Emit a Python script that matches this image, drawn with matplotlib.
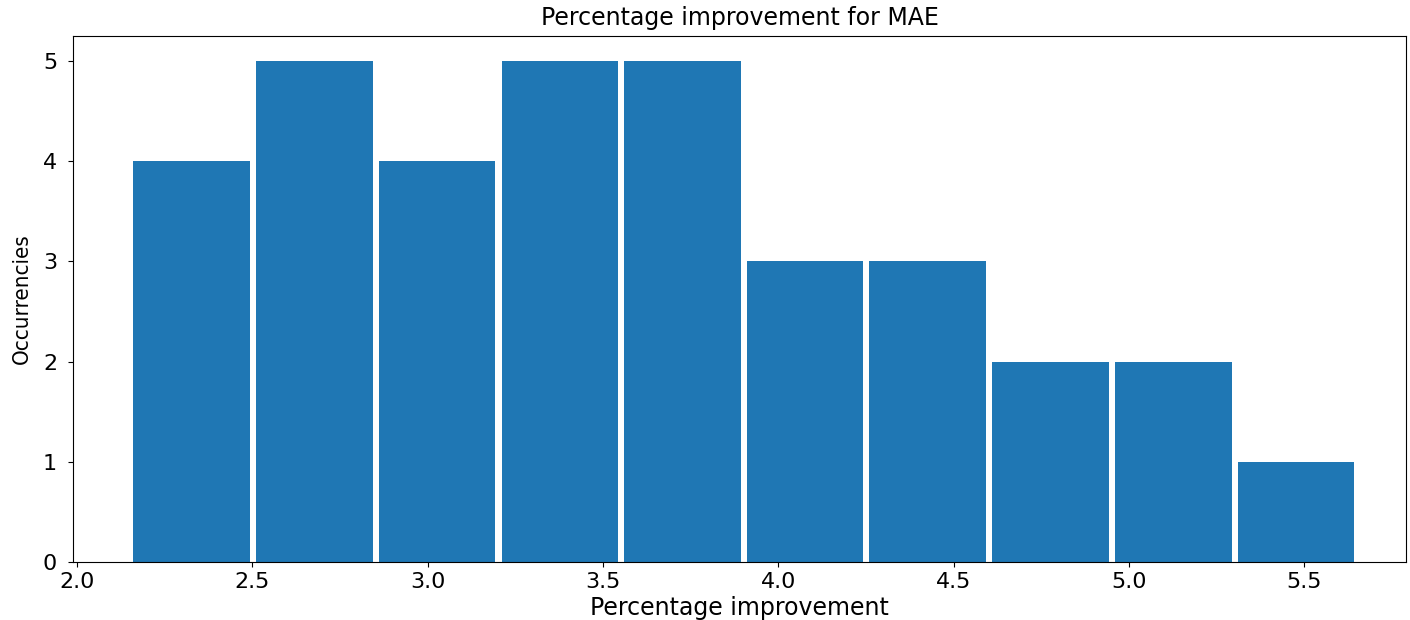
import matplotlib
matplotlib.use('Agg')
import matplotlib.pyplot as plt
import matplotlib.font_manager as fm
import numpy as np

# --- Data ---
bin_edges = [2.152, 2.502, 2.852, 3.202, 3.552, 3.901,
             4.251, 4.601, 4.951, 5.301, 5.651]
counts = [4, 5, 4, 5, 5, 3, 3, 2, 2, 1]

centers = [(a + b) / 2 for a, b in zip(bin_edges[:-1], bin_edges[1:])]

fig = plt.figure(figsize=(14.1, 6.2), dpi=100)
ax = fig.add_axes([0.0518, 0.0935, 0.9455, 0.8485])

ax.hist(centers, bins=bin_edges, weights=counts, rwidth=0.95, color='#1f77b4')

ax.set_xlim(1.989, 5.79)
ax.set_ylim(0, 5.25)
ax.set_xticks([2.0, 2.5, 3.0, 3.5, 4.0, 4.5, 5.0, 5.5])
ax.set_yticks([0, 1, 2, 3, 4, 5])
ax.tick_params(labelsize=16)
ax.tick_params(axis='y', pad=8)

ax.set_title('Percentage improvement for MAE', fontsize=17, pad=8)
ax.set_xlabel('Percentage improvement', fontsize=17, labelpad=3)

# y label looks condensed in the reference
cond = [f for f in fm.findSystemFonts() if 'condensed' in f.lower() and 'dejavusans' in f.lower().replace('-', '').replace(' ', '')]
if cond:
    prop = fm.FontProperties(fname=[c for c in cond if 'bold' not in c.lower() and 'oblique' not in c.lower()][0], size=16)
    ax.set_ylabel('Occurrencies', fontproperties=prop, labelpad=8)
else:
    ax.set_ylabel('Occurrencies', fontsize=16, labelpad=8)

fig.savefig('out.png', dpi=100)
